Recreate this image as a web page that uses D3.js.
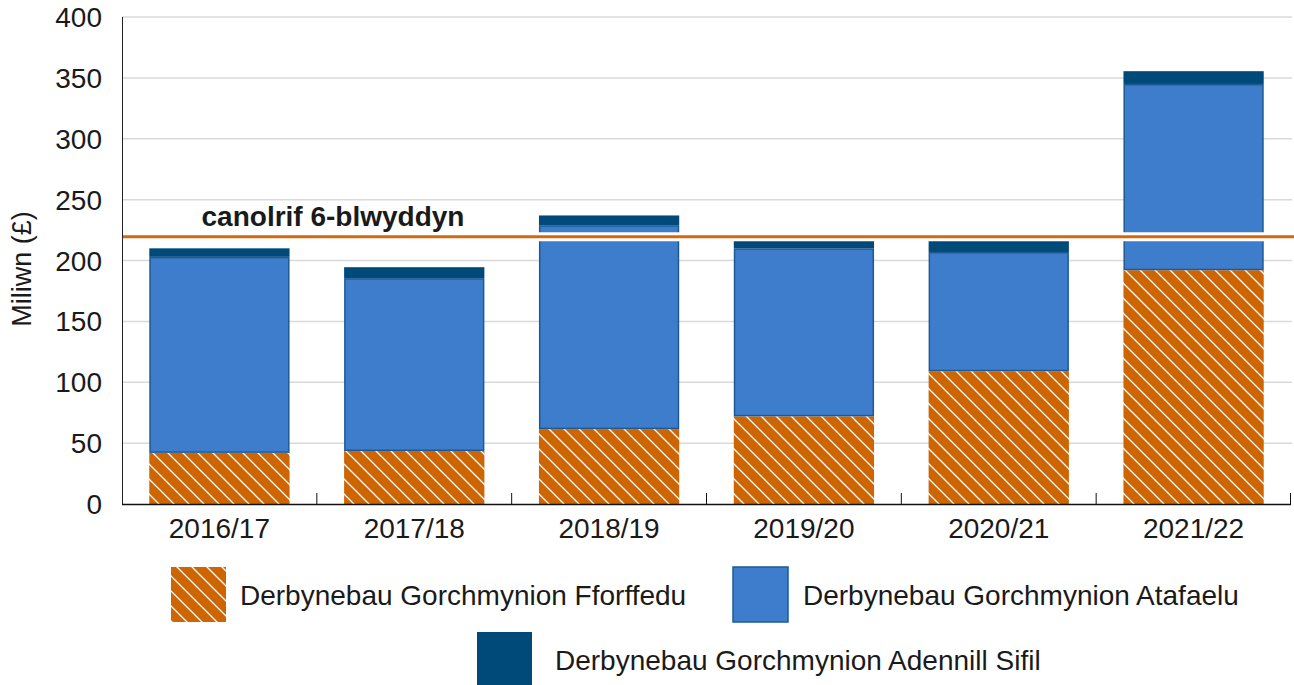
<!DOCTYPE html>
<html>
<head>
<meta charset="utf-8">
<script src="https://cdn.jsdelivr.net/npm/d3@7"></script>
<style>
  body { margin: 0; background: #fff; }
  text { font-family: "Liberation Sans", Arial, sans-serif; fill: #1a1a1a; }
</style>
</head>
<body>
<script>
// data (£ million)
var years = ["2016/17", "2017/18", "2018/19", "2019/20", "2020/21", "2021/22"];
var fforffedu = [42, 43.5, 61.5, 72, 109, 192];
var atafaelu = [161, 142, 167.5, 138, 98, 153];
var adennill = [7, 9, 8, 6, 9, 10.5];
var yTicks = [0, 50, 100, 150, 200, 250, 300, 350, 400];
var median = 219.5;
var medianLabel = "canolrif 6-blwyddyn";
var seriesNames = ["Derbynebau Gorchmynion Fforffedu", "Derbynebau Gorchmynion Atafaelu", "Derbynebau Gorchmynion Adennill Sifil"];

var width = 1294, height = 685;
var orange = "#cc6502", blue = "#3e7dcb", dark = "#004a7a";

var svg = d3.select("body").append("svg")
    .attr("width", width)
    .attr("height", height);

var defs = svg.append("defs");
var pat = defs.append("pattern")
    .attr("id", "hatch")
    .attr("patternUnits", "userSpaceOnUse")
    .attr("width", 15)
    .attr("height", 15);
pat.append("rect").attr("width", 15).attr("height", 15).attr("fill", orange);
pat.append("path")
    .attr("d", "M0,0L15,15M-4,11L4,19M11,-4L19,4")
    .attr("stroke", "#fff")
    .attr("stroke-width", 1.3);

var x = d3.scaleBand()
    .domain(years)
    .range([122, 1291])
    .paddingInner(0.28)
    .paddingOuter(0.14);

var y = d3.scaleLinear()
    .domain([0, 400])
    .range([504, 17]);

// gridlines
svg.append("g")
    .selectAll("line")
    .data(yTicks.slice(1))
    .enter().append("line")
    .attr("x1", 122)
    .attr("x2", 1292)
    .attr("y1", function (d) { return y(d); })
    .attr("y2", function (d) { return y(d); })
    .attr("stroke", "#d9d9d9")
    .attr("stroke-width", 1.5);

// y labels
svg.append("g")
    .selectAll("text")
    .data(yTicks)
    .enter().append("text")
    .attr("x", 102)
    .attr("y", function (d) { return y(d); })
    .attr("dy", "0.36em")
    .attr("text-anchor", "end")
    .style("font-size", "28px")
    .text(function (d) { return d; });

svg.append("text")
    .attr("transform", "translate(31," + y(193) + ") rotate(-90)")
    .attr("text-anchor", "middle")
    .style("font-size", "27px")
    .text("Miliwn (£)");

// stacked bars
var bars = svg.append("g");
years.forEach(function (yr, i) {
    var b0 = fforffedu[i], b1 = b0 + atafaelu[i], b2 = b1 + adennill[i];
    bars.append("rect")
        .attr("x", x(yr))
        .attr("width", x.bandwidth())
        .attr("y", y(b0))
        .attr("height", y(0) - y(b0))
        .attr("fill", "url(#hatch)");
    bars.append("rect")
        .attr("x", x(yr) + 0.75)
        .attr("width", x.bandwidth() - 1.5)
        .attr("y", y(b1) + 0.75)
        .attr("height", y(b0) - y(b1) - 1.5)
        .attr("fill", blue)
        .attr("stroke", "#1d5a95")
        .attr("stroke-width", 1.5);
    bars.append("rect")
        .attr("x", x(yr))
        .attr("width", x.bandwidth())
        .attr("y", y(b2))
        .attr("height", y(b1) - y(b2))
        .attr("fill", dark);
});

// axes
svg.append("line")
    .attr("x1", 122.5).attr("x2", 122.5)
    .attr("y1", y(400)).attr("y2", y(0))
    .attr("stroke", "#222").attr("stroke-width", 1);

svg.append("line")
    .attr("x1", 122).attr("x2", 1291)
    .attr("y1", y(0) + 0.5).attr("y2", y(0) + 0.5)
    .attr("stroke", "#111").attr("stroke-width", 1.5);

var bounds = years.slice(1).map(function (d) { return x(d) - x.step() * x.paddingInner() / 2; });
bounds.push(1290.5);
svg.append("g")
    .selectAll("line")
    .data(bounds)
    .enter().append("line")
    .attr("x1", function (d) { return d; })
    .attr("x2", function (d) { return d; })
    .attr("y1", y(0) - 11)
    .attr("y2", y(0))
    .attr("stroke", "#111")
    .attr("stroke-width", 1);

svg.append("g")
    .selectAll("text")
    .data(years)
    .enter().append("text")
    .attr("x", function (d) { return x(d) + x.bandwidth() / 2; })
    .attr("y", 538)
    .attr("text-anchor", "middle")
    .style("font-size", "28px")
    .text(function (d) { return d; });

// median line
svg.append("line")
    .attr("x1", 123).attr("x2", 1294)
    .attr("y1", y(median)).attr("y2", y(median))
    .attr("stroke", "#fff").attr("stroke-width", 9);
svg.append("line")
    .attr("x1", 123).attr("x2", 1294)
    .attr("y1", y(median)).attr("y2", y(median))
    .attr("stroke", "#d2690f").attr("stroke-width", 3);

svg.append("text")
    .attr("x", 333)
    .attr("y", y(median) - 11)
    .attr("text-anchor", "middle")
    .style("font-size", "28px")
    .style("font-weight", "bold")
    .text(medianLabel);

// legend
var legend = [
    {name: seriesNames[0], fill: "url(#hatch)", sx: 171, sy: 567, tx: 240},
    {name: seriesNames[1], fill: blue, sx: 733, sy: 567, tx: 803},
    {name: seriesNames[2], fill: dark, sx: 477, sy: 632, tx: 555}
];
var lg = svg.append("g").selectAll("g").data(legend).enter().append("g");
lg.append("rect")
    .attr("x", function (d) { return d.sx; })
    .attr("y", function (d) { return d.sy; })
    .attr("width", 55)
    .attr("height", 55)
    .attr("fill", function (d) { return d.fill; })
    .attr("stroke", function (d, i) { return i === 1 ? "#1d5a95" : "none"; })
    .attr("stroke-width", 1.5);
lg.append("text")
    .attr("x", function (d) { return d.tx; })
    .attr("y", function (d) { return d.sy + 28; })
    .attr("dy", "0.36em")
    .style("font-size", "28px")
    .text(function (d) { return d.name; });
</script>
</body>
</html>
